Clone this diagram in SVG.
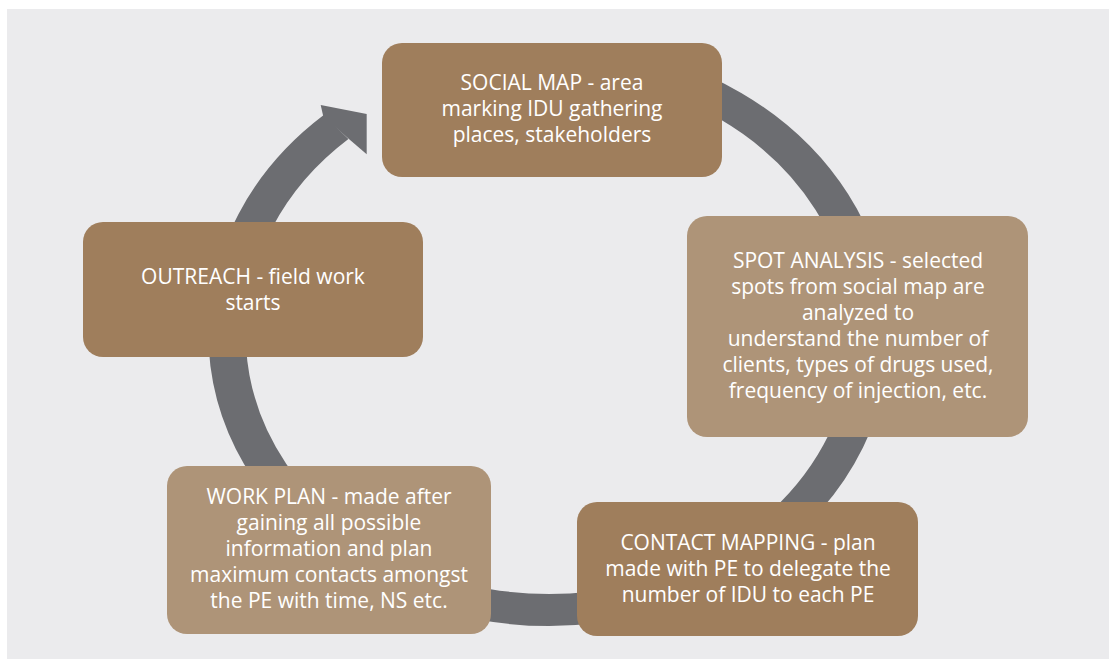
<svg xmlns="http://www.w3.org/2000/svg" width="1109" height="659" viewBox="0 0 1109 659">
<style>
.dark{fill:#9f7e5c}
.light{fill:#ae9478}
.t{font-family:"Open Sans","Noto Sans","Liberation Sans",sans-serif;font-size:21px;fill:#ffffff;text-anchor:middle}
.ring{fill:none;stroke:#6c6d71;stroke-width:32}
</style>
<rect x="0" y="0" width="1109" height="659" fill="#ffffff"/>
<rect x="7" y="9" width="1102" height="650" fill="#ebebed"/>
<g id="connectors">
<g transform="translate(549,334) scale(1.1667,1)">
<path class="ring" d="M 47.93 -271.81 A 276 276 0 1 1 -182.5 -207.0"/>
</g>
<polygon points="320.7,105 366.7,114 366.7,154.3 349.5,139.5 323.3,116.5" fill="#6c6d71"/>
</g>
<g id="social-map">
<rect class="dark" x="382" y="43" width="340" height="134" rx="20"/>
<text class="t" x="552" y="90">SOCIAL MAP - area</text>
<text class="t" x="552" y="116">marking IDU gathering</text>
<text class="t" x="552" y="142">places, stakeholders</text>
</g>
<g id="spot-analysis">
<rect class="light" x="687" y="216" width="341" height="221" rx="20"/>
<text class="t" x="858" y="268">SPOT ANALYSIS - selected</text>
<text class="t" x="858" y="294">spots from social map are</text>
<text class="t" x="858" y="320">analyzed to</text>
<text class="t" x="858" y="345.5">understand the number of</text>
<text class="t" x="858" y="371.5">clients, types of drugs used,</text>
<text class="t" x="858" y="397.5">frequency of injection, etc.</text>
</g>
<g id="contact-mapping">
<rect class="dark" x="577" y="502" width="341" height="134" rx="20"/>
<text class="t" x="748" y="550">CONTACT MAPPING - plan</text>
<text class="t" x="748" y="576">made with PE to delegate the</text>
<text class="t" x="748" y="602">number of IDU to each PE</text>
</g>
<g id="work-plan">
<rect class="light" x="167" y="466" width="324" height="168" rx="20"/>
<text class="t" x="329" y="503.5">WORK PLAN - made after</text>
<text class="t" x="329" y="529.5">gaining all possible</text>
<text class="t" x="329" y="555.5">information and plan</text>
<text class="t" x="329" y="581.5">maximum contacts amongst</text>
<text class="t" x="329" y="607.5">the PE with time, NS etc.</text>
</g>
<g id="outreach">
<rect class="dark" x="83" y="222" width="340" height="135" rx="20"/>
<text class="t" x="253" y="284">OUTREACH - field work</text>
<text class="t" x="253" y="310">starts</text>
</g>
</svg>
